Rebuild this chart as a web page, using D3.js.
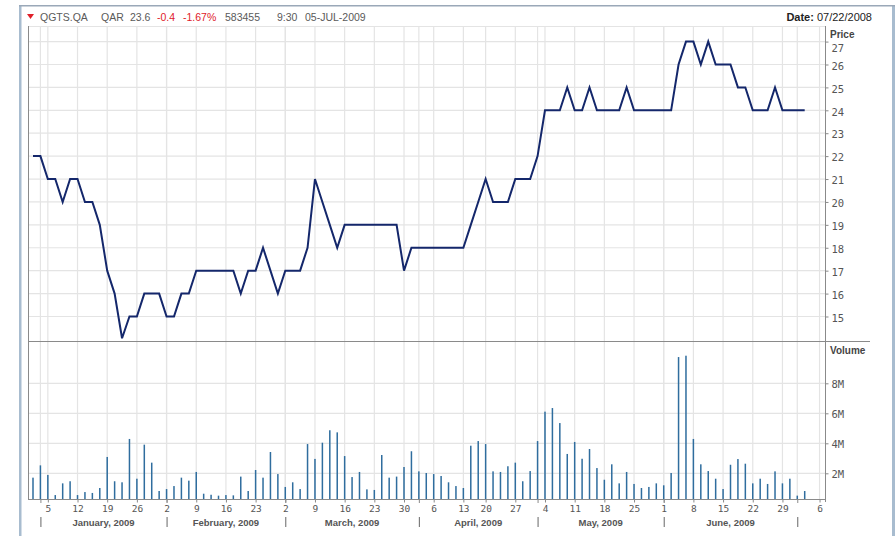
<!DOCTYPE html>
<html><head><meta charset="utf-8">
<script src="https://cdn.jsdelivr.net/npm/d3@7/dist/d3.min.js"></script>
<style>
html,body{margin:0;padding:0;background:#fff;}
svg{display:block;}
</style></head>
<body>
<svg id="chart" width="895" height="536"></svg>
<script>
// ---- data ----
const prices = [22,22,21,21,20,21,21,20,20,19,
  17,16,14.05,15,15,16,16,16,15,15,
  16,16,17,17,17,17,17,17,16,17,
  17,18,17,16,17,17,17,18,21,20,
  19,18,19,19,19,19,19,19,19,19,
  17,18,18,18,18,18,18,18,18,19,
  20,21,20,20,20,21,21,21,22,24,
  24,24,25,24,24,25,24,24,24,24,
  25,24,24,24,24,24,24,26,27,27,
  26,27,26,26,26,25,25,24,24,24,
  25,24,24,24,24];
const volumes = [1.71,2.53,1.89,0.55,1.33,1.47,0.55,0.75,0.69,1.02,
  3.09,1.47,1.40,4.29,1.64,3.91,2.71,0.82,0.95,1.15,
  1.71,1.51,2.09,0.64,0.57,0.51,0.55,0.53,1.78,0.82,
  2.22,1.71,3.42,1.95,1.09,1.40,0.95,3.95,2.96,4.04,
  4.87,4.73,3.15,1.75,2.09,0.93,0.89,3.22,1.71,1.78,
  2.42,3.47,2.13,2.02,1.95,1.82,1.40,1.15,1.02,3.84,
  4.15,3.95,2.13,2.09,2.47,2.71,1.47,2.15,4.15,6.11,
  6.35,5.35,3.29,4.09,2.97,3.62,2.35,1.57,2.60,1.33,
  2.09,1.29,1.02,1.09,1.33,1.20,2.02,9.75,9.84,4.29,
  2.60,2.15,1.64,0.95,2.57,2.95,2.64,1.33,1.64,1.29,
  2.13,1.33,1.64,0.51,0.82];
const weekTickIdx = [2,6,10,14,18,22,26,30,34,38,42,46,50,54,58,61,65,69,73,77,81,85,89,93,97,101,106];
const weekTickLabels = ["5","12","19","26","2","9","16","23","2","9","16","23","30","6","13","20","27","4","11","18","25","1","8","15","22","29","6"];
const monthSepIdx = [1,18,34,52,68,85,103];
const monthLabels = ["January, 2009","February, 2009","March, 2009","April, 2009","May, 2009","June, 2009"];
const priceTicks = [15,16,17,18,19,20,21,22,23,24,25,26,27];
const volTicks = [2,4,6,8];
const volTickLabels = ["2M","4M","6M","8M"];
const headerParts = [
  {t:"QGTS.QA", red:false}, {t:"QAR", red:false}, {t:"23.6", red:false},
  {t:"-0.4", red:true}, {t:"-1.67%", red:true}, {t:"583455", red:false},
  {t:"9:30", red:false}, {t:"05-JUL-2009", red:false}];
const headerX = [40,101,130,157,183,225,277,305];
const dateLabel = "07/22/2008";

// ---- layout ----
const L = 28, R = 825, T = 26, M = 341, B = 499;
const svg = d3.select("#chart");
const gridColor = "#e4e4e4", axisColor = "#8a8a8a";

const x = d3.scaleLinear().domain([0, prices.length - 1]).range([33, 804.7]);
const yP = d3.scaleLinear().domain([13.93, 27.68]).range([M, T]);
const yV = d3.scaleLinear().domain([0.287, 10.82]).range([B, M]);

// outer frame
svg.append("rect").attr("x", 19).attr("y", 5).attr("width", 2.5).attr("height", 531).attr("fill", "#a8bccf");
svg.append("rect").attr("x", 892).attr("y", 5).attr("width", 3).attr("height", 531).attr("fill", "#a8bccf");
svg.append("rect").attr("x", 19).attr("y", 5).attr("width", 876).attr("height", 1.5).attr("fill", "#9aa8b8");

// header
const hdr = svg.append("g").attr("font-family", "'Liberation Sans', Arial, sans-serif").attr("font-size", 10.5);
hdr.append("path").attr("d", "M27,14 L34,14 L30.5,19 Z").attr("fill", "#e0202a");
headerParts.forEach((p, i) => {
  hdr.append("text").attr("x", headerX[i]).attr("y", 20.5).attr("fill", p.red ? "#e0202a" : "#5a5a5a").text(p.t);
});
const dt = svg.append("text").attr("x", 872).attr("y", 21).attr("text-anchor", "end")
  .attr("font-family", "'Liberation Sans', Arial, sans-serif").attr("font-size", 11).attr("fill", "#222");
dt.append("tspan").attr("font-weight", "bold").text("Date: ");
dt.append("tspan").text(dateLabel);

// grids
const grid = svg.append("g").attr("stroke", gridColor).attr("stroke-width", 1.2);
const vGridIdx = weekTickIdx.concat(monthSepIdx);
vGridIdx.forEach(i => {
  grid.append("line").attr("x1", x(i)).attr("x2", x(i)).attr("y1", T).attr("y2", B);
});
priceTicks.forEach(v => {
  grid.append("line").attr("x1", L).attr("x2", R).attr("y1", yP(v)).attr("y2", yP(v));
});
volTicks.forEach(v => {
  grid.append("line").attr("x1", L).attr("x2", R).attr("y1", yV(v)).attr("y2", yV(v));
});
grid.append("line").attr("x1", L).attr("x2", R).attr("y1", T + 0.5).attr("y2", T + 0.5);

// volume bars
svg.append("g").selectAll("rect").data(volumes).join("rect")
  .attr("x", (d, i) => x(i) - 0.75).attr("width", 1.5)
  .attr("y", d => yV(d)).attr("height", d => B - yV(d))
  .attr("fill", "#2f6d9e");

// price line
svg.append("path").datum(prices)
  .attr("d", d3.line().x((d, i) => x(i)).y(d => yP(d)))
  .attr("fill", "none").attr("stroke", "#14276b").attr("stroke-width", 2)
  .attr("stroke-linejoin", "miter");

// axes lines
const ax = svg.append("g").attr("stroke", axisColor).attr("stroke-width", 1);
ax.append("line").attr("x1", L + 0.5).attr("x2", L + 0.5).attr("y1", T).attr("y2", B);
ax.append("line").attr("x1", R + 0.5).attr("x2", R + 0.5).attr("y1", T).attr("y2", B + 3);
ax.append("line").attr("x1", L).attr("x2", 870).attr("y1", M + 0.5).attr("y2", M + 0.5);
ax.append("line").attr("x1", L).attr("x2", R).attr("y1", B + 0.5).attr("y2", B + 0.5);

// right axes (price & volume) with d3 axis
const monoFont = "'DejaVu Sans Mono', monospace";
const pAxis = svg.append("g").attr("transform", `translate(${R + 0.5},0)`)
  .call(d3.axisRight(yP).tickValues(priceTicks).tickSize(3).tickPadding(3).tickFormat(d3.format("d")));
pAxis.select(".domain").remove();
pAxis.selectAll("line").attr("stroke", axisColor);
pAxis.selectAll("text").attr("font-family", monoFont).attr("font-size", 10.5).attr("fill", "#555")
  .attr("dy", (d) => (yP(d) < T + 20 ? "0.95em" : "0.45em"));

const vAxis = svg.append("g").attr("transform", `translate(${R + 0.5},0)`)
  .call(d3.axisRight(yV).tickValues(volTicks).tickSize(3).tickPadding(3).tickFormat((d, i) => volTickLabels[i]));
vAxis.select(".domain").remove();
vAxis.selectAll("line").attr("stroke", axisColor);
vAxis.selectAll("text").attr("font-family", monoFont).attr("font-size", 10.5).attr("fill", "#555").attr("dy", "0.4em");

svg.append("text").attr("x", 830).attr("y", 38).attr("font-family", "'Liberation Sans', Arial, sans-serif")
  .attr("font-weight", "bold").attr("font-size", 10).attr("fill", "#444").text("Price");
svg.append("text").attr("x", 830).attr("y", 354).attr("font-family", "'Liberation Sans', Arial, sans-serif")
  .attr("font-weight", "bold").attr("font-size", 10).attr("fill", "#444").text("Volume");

// bottom axis
const xAxis = svg.append("g").attr("transform", `translate(0,${B + 0.5})`)
  .call(d3.axisBottom(x).tickValues(weekTickIdx).tickSize(3).tickPadding(3).tickFormat((d, i) => weekTickLabels[i]));
xAxis.select(".domain").remove();
xAxis.selectAll("line").attr("stroke", axisColor);
xAxis.selectAll("text").attr("font-family", monoFont).attr("font-size", 9.5).attr("fill", "#555");

// month separators and labels
const mg = svg.append("g");
monthSepIdx.forEach(i => {
  mg.append("line").attr("x1", x(i) + 0.5).attr("x2", x(i) + 0.5).attr("y1", B).attr("y2", B + 4).attr("stroke", axisColor);
  mg.append("line").attr("x1", x(i) + 0.5).attr("x2", x(i) + 0.5).attr("y1", 517).attr("y2", 527).attr("stroke", "#666");
});
monthLabels.forEach((m, k) => {
  const cx = (x(monthSepIdx[k]) + x(monthSepIdx[k + 1])) / 2;
  mg.append("text").attr("x", cx).attr("y", 526).attr("text-anchor", "middle")
    .attr("font-family", "'Liberation Sans', Arial, sans-serif").attr("font-weight", "bold")
    .attr("font-size", 9.5).attr("fill", "#555").text(m);
});
</script>
</body></html>
